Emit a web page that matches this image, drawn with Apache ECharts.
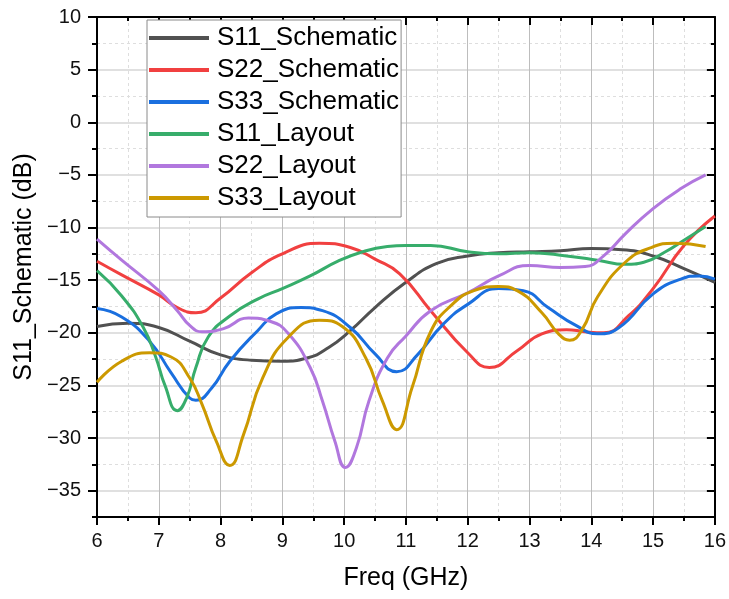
<!DOCTYPE html>
<html lang="en">

<head>
    <meta charset="UTF-8">
    <title>S-parameter comparison</title>
    <script src="https://cdn.jsdelivr.net/npm/echarts@6/dist/echarts.min.js"></script>
    <style>
        html, body { margin: 0; padding: 0; background: #ffffff; }
        #chart { width: 729px; height: 599px; }
    </style>
</head>

<body>
    <div id="chart"></div>
</body>

<script>
    // 各条曲线的数据
    var s11SchFreq = [6, 6.5, 7, 7.5, 8, 8.5, 9, 9.4, 9.75, 10.1, 10.5, 11, 11.5, 12, 12.5, 13, 13.5, 14, 14.5, 15, 15.5, 16];
    var s11SchVal = [-19.4, -19.1, -19.5, -20.8, -22.1, -22.6, -22.7, -22.4, -21.4, -19.8, -17.6, -15.2, -13.4, -12.7, -12.4, -12.3, -12.2, -12.0, -12.1, -12.7, -13.9, -15.2];

    var s22SchFreq = [6, 6.4, 7, 7.3, 7.6, 8, 8.5, 9, 9.6, 10.1, 10.5, 10.9, 11.4, 12, 12.35, 12.8, 13.2, 13.6, 13.9, 14.2, 14.6, 15, 15.5, 16];
    var s22SchVal = [-13.2, -14.5, -16.4, -17.6, -18.1, -16.7, -14.3, -12.5, -11.5, -11.9, -13.0, -14.4, -17.9, -21.9, -23.3, -21.7, -20.1, -19.7, -19.9, -20.0, -18.4, -15.8, -11.7, -8.9];

    var s33SchFreq = [6, 6.4, 6.85, 7.2, 7.5, 7.6, 7.85, 8.15, 8.6, 8.9, 9.3, 9.65, 10.1, 10.5, 10.85, 11.2, 11.6, 12, 12.5, 12.9, 13.3, 13.75, 14.1, 14.45, 15, 15.45, 15.75, 16];
    var s33SchVal = [-17.7, -18.5, -20.8, -23.8, -26.2, -26.4, -25.3, -22.7, -19.8, -18.2, -17.6, -17.9, -19.5, -22.0, -23.7, -22.0, -19.2, -17.3, -15.8, -16.0, -17.6, -19.3, -20.1, -19.5, -16.3, -14.9, -14.6, -14.9];

    var s11LayFreq = [6, 6.4, 6.75, 6.95, 7.1, 7.3, 7.45, 7.6, 7.8, 8.15, 8.6, 9, 9.45, 9.9, 10.3, 10.7, 11, 11.4, 12, 12.5, 13, 13.6, 14.1, 14.55, 14.85, 15.2, 15.5, 15.85];
    var s11LayVal = [-14.1, -16.5, -19.5, -22.3, -25.0, -27.4, -26.2, -23.3, -20.4, -18.4, -16.8, -15.8, -14.6, -13.2, -12.3, -11.8, -11.7, -11.7, -12.3, -12.5, -12.4, -12.7, -13.1, -13.5, -13.3, -12.3, -11.2, -9.9];

    var s22LayFreq = [6, 6.4, 7, 7.3, 7.5, 7.7, 8.05, 8.45, 8.8, 9.1, 9.45, 9.65, 9.85, 10.02, 10.2, 10.4, 10.7, 11, 11.4, 12, 12.5, 13, 13.5, 13.9, 14.2, 14.55, 15, 15.45, 15.85];
    var s22LayVal = [-11.1, -13.1, -16.0, -17.9, -19.3, -19.9, -19.6, -18.6, -18.9, -20.1, -23.3, -26.5, -30.3, -32.8, -30.9, -26.5, -22.4, -20.3, -17.9, -16.2, -14.6, -13.6, -13.8, -13.7, -12.7, -10.6, -8.2, -6.3, -5.0];

    var s33LayFreq = [6, 6.4, 6.85, 7.2, 7.5, 7.7, 7.93, 8.15, 8.37, 8.68, 9.1, 9.6, 9.97, 10.35, 10.62, 10.85, 11.1, 11.4, 11.75, 12.1, 12.5, 12.8, 13.2, 13.47, 13.65, 13.85, 14.1, 14.55, 14.97, 15.35, 15.85];
    var s33LayVal = [-24.7, -22.7, -21.9, -22.3, -24.3, -26.8, -30.3, -32.6, -29.7, -24.3, -20.4, -18.8, -19.4, -22.4, -26.5, -29.2, -25.2, -19.9, -17.3, -16.0, -15.6, -16.0, -18.1, -20.1, -20.7, -19.7, -16.6, -13.3, -11.9, -11.5, -11.8];

    // 图例名称和颜色
    var seriesNames = ['S11_Schematic', 'S22_Schematic', 'S33_Schematic', 'S11_Layout', 'S22_Layout', 'S33_Layout'];
    var seriesColors = ['#515151', '#F14040', '#1A6FDF', '#37AD6B', '#B177DE', '#CC9900'];

    // 坐标轴刻度
    var yMajorTicks = [-35, -30, -25, -20, -15, -10, -5, 0, 5, 10];
    var yMinorTicks = [-37.5, -32.5, -27.5, -22.5, -17.5, -12.5, -7.5, -2.5, 2.5, 7.5];

    var allFreq = [s11SchFreq, s22SchFreq, s33SchFreq, s11LayFreq, s22LayFreq, s33LayFreq];
    var allVal = [s11SchVal, s22SchVal, s33SchVal, s11LayVal, s22LayVal, s33LayVal];

    function pairs(xs, ys) {
        var out = [];
        for (var i = 0; i < xs.length; i++) {
            out.push([xs[i], ys[i]]);
        }
        return out;
    }

    var fontName = 'Liberation Sans, Arial, sans-serif';
    var axisBlack = { color: '#000', width: 2 };

    var series = [];
    for (var k = 0; k < seriesNames.length; k++) {
        series.push({
            name: seriesNames[k],
            type: 'line',
            xAxisIndex: 0,
            yAxisIndex: 0,
            data: pairs(allFreq[k], allVal[k]),
            smooth: 0.5,
            symbol: 'none',
            color: seriesColors[k],
            lineStyle: { width: 3, color: seriesColors[k] },
            z: 3 + k
        });
    }

    var myChart = echarts.init(document.getElementById('chart'), null, { renderer: 'canvas' });

    myChart.setOption({
        animation: false,
        backgroundColor: '#ffffff',
        textStyle: { fontFamily: fontName },
        grid: { left: 97, right: 12, top: 17, bottom: 82, containLabel: false },
        legend: {
            orient: 'vertical',
            left: 147,
            top: 20,
            padding: [5, 2, 6, 2],
            icon: 'rect',
            itemWidth: 60,
            itemHeight: 4,
            itemGap: 6,
            backgroundColor: '#ffffff',
            borderColor: '#8a8a8a',
            borderWidth: 1,
            textStyle: { fontSize: 26, color: '#000', fontFamily: fontName, lineHeight: 26, padding: [0, 0, 0, 3] },
            data: seriesNames
        },
        xAxis: [
            {
                type: 'value',
                min: 6,
                max: 16,
                interval: 1,
                position: 'bottom',
                name: 'Freq (GHz)',
                nameLocation: 'middle',
                nameGap: 49,
                nameTextStyle: { fontSize: 25, color: '#000', fontFamily: fontName },
                axisLine: { show: true, onZero: false, lineStyle: axisBlack },
                axisTick: { show: true, length: 8, lineStyle: axisBlack },
                minorTick: { show: true, splitNumber: 2, length: 4, lineStyle: axisBlack },
                axisLabel: { fontSize: 20, color: '#111', margin: 14, fontFamily: fontName },
                splitLine: { show: true, lineStyle: { color: '#bdbdbd', width: 1 } },
                minorSplitLine: { show: true, lineStyle: { color: '#dedede', width: 1, type: [3, 3] } }
            },
            {
                type: 'value',
                min: 6,
                max: 16,
                interval: 1,
                position: 'top',
                axisLine: { show: true, onZero: false, lineStyle: axisBlack },
                axisTick: { show: true, inside: true, length: 8, lineStyle: axisBlack },
                minorTick: { show: true, splitNumber: 2, length: 4, lineStyle: axisBlack },
                axisLabel: { show: false },
                splitLine: { show: false }
            }
        ],
        yAxis: [
            {
                type: 'value',
                min: -37.5,
                max: 10,
                position: 'left',
                name: 'S11_Schematic (dB)',
                nameLocation: 'middle',
                nameGap: 60,
                nameTextStyle: { fontSize: 25, color: '#000', fontFamily: fontName },
                axisLine: { show: true, onZero: false, lineStyle: axisBlack },
                axisTick: { show: true, length: 9, customValues: yMajorTicks, lineStyle: axisBlack },
                axisLabel: {
                    fontSize: 20, color: '#111', margin: 16, customValues: yMajorTicks, fontFamily: fontName,
                    formatter: function (v) { return String(v).replace('-', '\u2212'); }
                },
                splitLine: { show: true, lineStyle: { color: '#d6d6d6', width: 1.5 } }
            },
            {
                type: 'value',
                min: -37.5,
                max: 10,
                position: 'left',
                axisLine: { show: false },
                axisTick: { show: true, length: 5, customValues: yMinorTicks, lineStyle: axisBlack },
                axisLabel: { show: false, customValues: yMinorTicks },
                splitLine: { show: true, lineStyle: { color: '#dedede', width: 1, type: [3, 3] } }
            },
            {
                type: 'value',
                min: -37.5,
                max: 10,
                position: 'right',
                axisLine: { show: true, onZero: false, lineStyle: axisBlack },
                axisTick: { show: true, inside: true, length: 8, customValues: yMajorTicks, lineStyle: axisBlack },
                axisLabel: { show: false, customValues: yMajorTicks },
                splitLine: { show: false }
            },
            {
                type: 'value',
                min: -37.5,
                max: 10,
                position: 'right',
                axisLine: { show: false },
                axisTick: { show: true, inside: true, length: 4, customValues: yMinorTicks, lineStyle: axisBlack },
                axisLabel: { show: false, customValues: yMinorTicks },
                splitLine: { show: false }
            }
        ],
        series: series
    });
</script>

</html>
